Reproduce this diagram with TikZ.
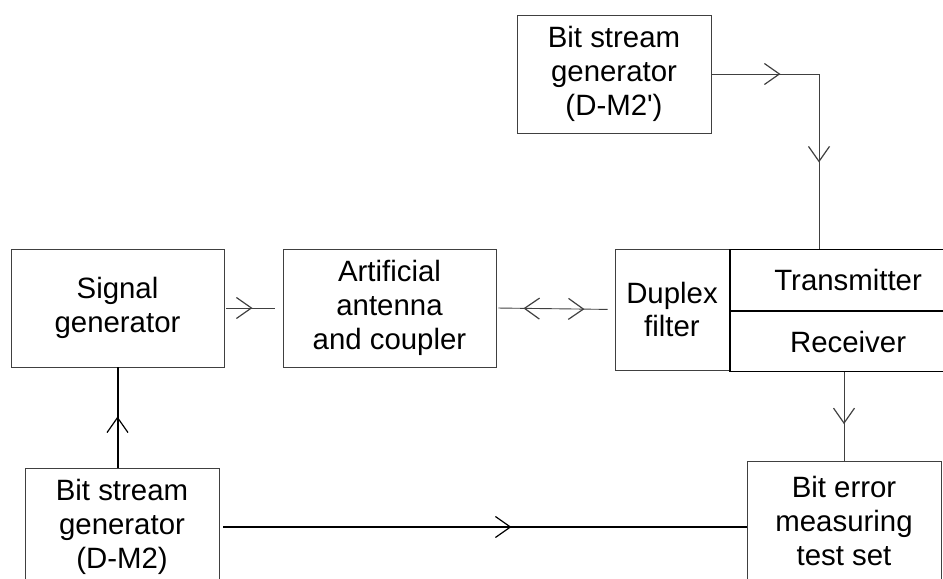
\documentclass[tikz,border=0pt]{standalone}
\usepackage{fontspec}
\setmainfont{Liberation Sans}
\usetikzlibrary{arrows.meta,decorations.markings}

\begin{document}
\begin{tikzpicture}[x=1bp,y=-1bp,node distance=272bp]

\tikzstyle{block}=[rectangle,draw=black!75,line width=0.9bp,align=center,
	inner sep=0pt,font=\fontsize{29.5}{34}\selectfont]
\tikzstyle{part}=[block,draw=black,line width=1.3bp]
\tikzstyle{wire}=[draw=black!75,line width=0.9bp]
\tikzstyle{bus}=[draw=black,line width=2bp]
\tikzset{
	tip/.style={postaction={decorate,decoration={markings,
		mark=at position #1 with {\arrow[line width=1.2bp]{Straight Barb[length=15bp,width=21bp]}}}}},
	backtip/.style={postaction={decorate,decoration={markings,
		mark=at position #1 with {\arrowreversed[line width=1.2bp]{Straight Barb[length=15bp,width=21bp]}}}}}
}

\useasboundingbox (0,0) rectangle (943,579);

\node[block,minimum width=213bp,minimum height=118bp]
	(siggen) at (117.5,308) {Signal\\generator};

\node[block,minimum width=213bp,minimum height=118bp]
	(antenna)[right of=siggen] {Artificial\\antenna\\and coupler};

\node[block,minimum width=114bp,minimum height=121bp]
	(duplex) at (672,309.5) {Duplex\\filter};

\node[part,minimum width=236bp,minimum height=61bp,anchor=north west]
	(tx) at (duplex.north east) {Transmitter};
\node[part,minimum width=236bp,minimum height=60bp,anchor=north west]
	(rx) at (tx.south west) {Receiver};

\node[block,minimum width=194bp,minimum height=118bp]
	(bsgtop) at (614,74) {Bit stream\\generator\\(D-M2\textquotesingle)};

\node[block,minimum width=194bp,minimum height=118bp]
	(bsgbot) at (122,527) {Bit stream\\generator\\(D-M2)};

\node[block,minimum width=194bp,minimum height=120bp]
	(bemts) at (844,521) {Bit error\\measuring\\test set};

\coordinate (txin) at (819,249);

\path[wire,tip=28bp,shorten <=2bp,shorten >=8bp] (siggen.east) -- (antenna.west);
\path[wire,backtip=27bp,tip=88bp,shorten <=2bp,shorten >=7bp] (antenna.east) -- (duplex.west);
\path[wire,tip=69bp,tip=196bp] (bsgtop.east) -| (txin);
\path[wire,tip=52bp] (bemts.north |- rx.south) -- (bemts.north);
\path[bus,tip=51bp] (siggen.south |- bsgbot.north) -- (siggen.south);
\path[bus,tip=292bp,shorten <=4bp] (bsgbot.east) -- (bemts.west |- bsgbot.east);

\end{tikzpicture}
\end{document}
